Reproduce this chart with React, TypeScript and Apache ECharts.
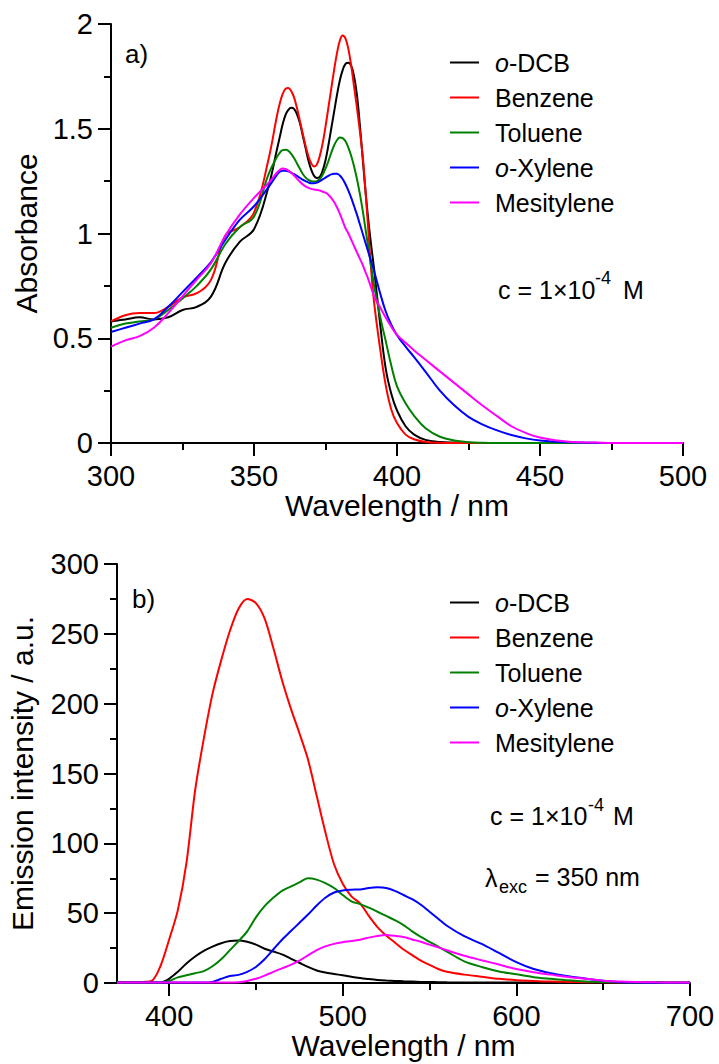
import React, { useEffect, useRef } from "react";
import * as echarts from "echarts";

const FONT = "Liberation Sans, Arial, sans-serif";

const SERIES_NAMES = ["o-DCB", "Benzene", "Toluene", "o-Xylene", "Mesitylene"];
const SERIES_COLORS = ["#000000", "#ff0000", "#008000", "#0000ff", "#ff00ff"];

// ---- (a) Absorbance ----
const ABS_WL = [300, 305, 310, 315, 320, 325, 330, 335, 340, 345, 350, 355,
  358, 359, 360, 361, 362, 363, 364, 365, 366, 367, 368, 369, 370, 371, 372, 373, 374, 375, 376, 377, 378, 379, 380, 381, 382, 383, 384, 385, 386, 387, 388, 389, 390, 391, 392,
  394, 396, 398, 400,
  403, 406, 410, 415, 420, 425, 430, 435, 440, 445, 450, 460, 470, 480, 500];
const ABS_DCB = [0.58, 0.59, 0.6, 0.59, 0.6, 0.635, 0.65, 0.7, 0.86, 0.96, 1.02, 1.22,
  1.4, 1.46, 1.52, 1.565, 1.59, 1.6, 1.595, 1.57, 1.53, 1.47, 1.41, 1.35, 1.305, 1.275, 1.265, 1.27, 1.3, 1.35, 1.42, 1.5, 1.58, 1.66, 1.73, 1.78, 1.81, 1.815, 1.8, 1.75, 1.66, 1.52, 1.36, 1.2, 1.06, 0.94, 0.83,
  0.58, 0.36, 0.235, 0.155,
  0.08, 0.04, 0.015, 0.005, 0.002, 0.001, 0, 0, 0, 0, 0, 0, 0, 0, 0];
const ABS_BENZENE = [0.58, 0.61, 0.62, 0.62, 0.65, 0.695, 0.715, 0.78, 0.99, 1.03, 1.1, 1.35,
  1.56, 1.62, 1.665, 1.69, 1.695, 1.68, 1.65, 1.6, 1.54, 1.48, 1.42, 1.37, 1.335, 1.32, 1.33, 1.37, 1.43, 1.51, 1.6, 1.69, 1.78, 1.86, 1.92, 1.945, 1.93, 1.88, 1.8, 1.7, 1.6, 1.49, 1.37, 1.2, 1.01, 0.82, 0.67,
  0.46, 0.28, 0.16, 0.095,
  0.04, 0.018, 0.005, 0.001, 0, 0, 0, 0, 0, 0, 0, 0, 0, 0, 0];
const ABS_TOLUENE = [0.55, 0.57, 0.58, 0.59, 0.635, 0.69, 0.75, 0.83, 0.95, 1.03, 1.08, 1.28,
  1.365, 1.385, 1.398, 1.4, 1.395, 1.38, 1.36, 1.335, 1.31, 1.285, 1.268, 1.256, 1.25, 1.248, 1.25, 1.26, 1.28, 1.31, 1.345, 1.385, 1.42, 1.445, 1.458, 1.455, 1.44, 1.41, 1.37, 1.32, 1.26, 1.19, 1.11, 1.02, 0.93, 0.84, 0.75,
  0.61, 0.49, 0.37, 0.27,
  0.19, 0.13, 0.07, 0.03, 0.012, 0.004, 0.001, 0, 0, 0, 0, 0, 0, 0, 0];
const ABS_XYLENE = [0.53, 0.55, 0.57, 0.59, 0.65, 0.72, 0.79, 0.865, 0.97, 1.065, 1.13, 1.22,
  1.28, 1.295, 1.3, 1.3, 1.297, 1.29, 1.283, 1.275, 1.266, 1.257, 1.25, 1.244, 1.24, 1.24, 1.243, 1.25, 1.258, 1.267, 1.275, 1.282, 1.285, 1.285, 1.277, 1.26, 1.235, 1.205, 1.17, 1.13, 1.09, 1.045, 1.0, 0.955, 0.91, 0.865, 0.82,
  0.72, 0.63, 0.565, 0.515,
  0.46, 0.41, 0.34, 0.25, 0.18, 0.125, 0.088, 0.06, 0.038, 0.022, 0.012, 0.003, 0.001, 0, 0];
const ABS_MESITYLENE = [0.46, 0.49, 0.51, 0.55, 0.62, 0.7, 0.78, 0.86, 0.99, 1.09, 1.17, 1.24,
  1.29, 1.303, 1.31, 1.308, 1.3, 1.29, 1.277, 1.262, 1.248, 1.235, 1.225, 1.218, 1.213, 1.21, 1.208, 1.205, 1.2, 1.195, 1.185, 1.17, 1.15, 1.125, 1.095, 1.06, 1.025, 1.0, 0.97, 0.94, 0.91, 0.88, 0.85, 0.815, 0.78, 0.74, 0.7,
  0.65, 0.6, 0.555, 0.516,
  0.478, 0.442, 0.397, 0.342, 0.287, 0.232, 0.178, 0.128, 0.08, 0.048, 0.026, 0.006, 0.002, 0, 0];

// ---- (b) Emission ----
const EM_WL = [370, 375, 380, 385, 390, 395, 400, 405, 410, 415, 420, 425, 430, 435, 440, 445, 450, 455, 460, 465, 470, 475, 480, 485, 490, 495, 500, 505, 510, 515, 520, 525, 530, 535, 540, 545, 550, 555, 560, 570, 580, 590, 600, 610, 620, 630, 640, 650, 660, 670, 680, 690, 700];
const EM_DCB = [0.3, 0.3, 0.3, 0.3, 0.3, 0.4, 3, 8, 14, 19, 23, 26, 28.5, 30, 30.5, 29.5, 27.5, 24.5, 22.5, 20.5, 17.5, 14.5, 11.5, 9, 7.5, 6.5, 5.5, 4.5, 3.5, 2.8, 2.2, 1.8, 1.5, 1.2, 1, 0.8, 0.7, 0.6, 0.5, 0.4, 0.4, 0.3, 0.3, 0.3, 0.3, 0.3, 0.3, 0.3, 0.3, 0.3, 0.3, 0.3, 0.3];
const EM_BENZENE = [0.5, 0.5, 0.6, 0.8, 1.5, 12, 31, 52, 86, 138, 175, 207, 231, 252, 268, 275, 272, 261, 240, 217, 197, 179, 160, 134, 108, 85, 71, 62, 57, 48, 40, 34, 29, 24, 20, 16, 13, 10, 8, 6, 4.5, 3, 2, 1.5, 1, 0.8, 0.6, 0.5, 0.4, 0.3, 0.3, 0.2, 0.2];
const EM_TOLUENE = [0.3, 0.3, 0.3, 0.3, 0.3, 0.3, 1.5, 4, 5.5, 7, 8.5, 12, 17, 23.5, 30, 37, 47, 55, 61, 66, 69, 72, 75, 74, 71.5, 68, 63, 58.5, 56.5, 54, 51, 48, 45, 41.5, 37, 33, 29.5, 26, 22.5, 15.5, 11.5, 8.3, 6.2, 4.2, 3, 1.9, 1.1, 0.7, 0.5, 0.4, 0.3, 0.2, 0.2];
const EM_XYLENE = [0.3, 0.3, 0.3, 0.3, 0.3, 0.3, 0.3, 0.3, 0.3, 0.3, 0.3, 0.8, 3, 5, 5.8, 8, 11.5, 17, 24, 31, 37, 43, 49, 55.5, 61, 64.8, 66.3, 66.8, 67, 68, 68.5, 68, 66, 63, 60, 56, 51, 46, 41, 33.5, 28, 21.5, 15, 10, 7, 4.8, 3.1, 1.6, 0.6, 0.3, 0.2, 0.2, 0.2];
const EM_MESITYLENE = [0.3, 0.3, 0.3, 0.3, 0.3, 0.3, 0.3, 0.3, 0.3, 0.3, 0.3, 0.3, 0.3, 0.3, 0.6, 1.5, 3, 5.3, 8, 10.5, 13, 16, 19.8, 23.5, 26.2, 28, 29.2, 30, 31, 32.5, 33.7, 34.3, 33.8, 33, 31.2, 29.5, 27.5, 25.5, 23.4, 19.5, 16.3, 13.2, 10, 7.7, 6, 4.3, 3.1, 1.6, 1, 0.7, 0.5, 0.4, 0.3];

const ABS_VALUES = [ABS_DCB, ABS_BENZENE, ABS_TOLUENE, ABS_XYLENE, ABS_MESITYLENE];
const EM_VALUES = [EM_DCB, EM_BENZENE, EM_TOLUENE, EM_XYLENE, EM_MESITYLENE];

const EM_MAJOR_TICKS = [400, 500, 600, 700];
const EM_MINOR_TICKS = [450, 550, 650];

const black = "#000";
const axisLine = { show: true, onZero: false, lineStyle: { color: black, width: 2 } };
const axisTick = { show: true, length: 13, lineStyle: { color: black, width: 2 } };
const minorTick = { show: true, splitNumber: 2, length: 7, lineStyle: { color: black, width: 2 } };
const axisLabel = { fontSize: 29, fontFamily: FONT, color: black, margin: 18 };
const nameStyle = { fontSize: 30, fontFamily: FONT, color: black };

function legendFor(top: number) {
  return {
    orient: "vertical",
    left: 450,
    top,
    padding: 0,
    itemGap: 10,
    itemWidth: 29,
    itemHeight: 2,
    icon: "rect",
    data: SERIES_NAMES.map((name) =>
      name === "Mesitylene" ? { name, textStyle: { padding: [5, 0, 5, 11] } } : { name }
    ),
    formatter: (name: string) =>
      name.startsWith("o-") ? `{i|o}{n|${name.slice(1)}}` : `{n|${name}}`,
    textStyle: {
      fontSize: 25,
      fontFamily: FONT,
      color: black,
      padding: [0, 0, 0, 11],
      rich: {
        i: { fontSize: 25, fontFamily: FONT, fontStyle: "italic", color: black },
        n: { fontSize: 25, fontFamily: FONT, color: black },
      },
    },
  };
}

function txt(text: string, x: number, y: number, size = 25) {
  return {
    type: "text",
    x,
    y,
    silent: true,
    style: { text, fontSize: size, fontFamily: FONT, fill: black, align: "left", verticalAlign: "middle" },
  };
}

export default function App() {
  const ref = useRef<HTMLDivElement>(null);

  useEffect(() => {
    document.body.style.margin = "0";
    const chart = echarts.init(ref.current as HTMLDivElement, null, { renderer: "svg" });

    const series: any[] = [];
    SERIES_NAMES.forEach((name, k) => {
      series.push({
        type: "line",
        name,
        xAxisIndex: 0,
        yAxisIndex: 0,
        data: ABS_WL.map((w, i) => [w, ABS_VALUES[k][i]]),
        showSymbol: false,
        symbol: "none",
        smooth: 0.4,
        lineStyle: { color: SERIES_COLORS[k], width: 2 },
        itemStyle: { color: SERIES_COLORS[k] },
      });
    });
    SERIES_NAMES.forEach((name, k) => {
      series.push({
        type: "line",
        name,
        xAxisIndex: 1,
        yAxisIndex: 1,
        data: EM_WL.map((w, i) => [w, EM_VALUES[k][i]]),
        showSymbol: false,
        symbol: "none",
        smooth: 0.3,
        lineStyle: { color: SERIES_COLORS[k], width: 2 },
        itemStyle: { color: SERIES_COLORS[k] },
      });
    });

    const option: any = {
      animation: false,
      backgroundColor: "#ffffff",
      textStyle: { fontFamily: FONT },
      grid: [
        { left: 111, top: 24, width: 572, height: 419, containLabel: false, outerBoundsMode: "none" },
        { left: 117, top: 564, width: 573, height: 419, containLabel: false, outerBoundsMode: "none" },
      ],
      legend: [legendFor(50), legendFor(590)],
      xAxis: [
        {
          type: "value",
          gridIndex: 0,
          min: 300,
          max: 500,
          interval: 50,
          name: "Wavelength / nm",
          nameLocation: "middle",
          nameGap: 45,
          nameTextStyle: nameStyle,
          axisLine,
          axisTick,
          minorTick,
          axisLabel,
          splitLine: { show: false },
          minorSplitLine: { show: false },
        },
        {
          type: "value",
          gridIndex: 1,
          min: 370,
          max: 700,
          position: "bottom",
          name: "Wavelength / nm",
          nameLocation: "middle",
          nameGap: 47,
          nameTextStyle: nameStyle,
          axisLine,
          axisTick: { ...axisTick, customValues: EM_MAJOR_TICKS },
          axisLabel: { ...axisLabel, customValues: EM_MAJOR_TICKS },
          splitLine: { show: false },
        },
        {
          type: "value",
          gridIndex: 1,
          min: 370,
          max: 700,
          position: "bottom",
          offset: 0,
          axisLine: { show: false },
          axisTick: { show: true, length: 7, lineStyle: { color: black, width: 2 }, customValues: EM_MINOR_TICKS },
          axisLabel: { show: false },
          splitLine: { show: false },
        },
      ],
      yAxis: [
        {
          type: "value",
          gridIndex: 0,
          min: 0,
          max: 2,
          interval: 0.5,
          name: "Absorbance",
          nameLocation: "middle",
          nameGap: 66,
          nameTextStyle: nameStyle,
          axisLine,
          axisTick,
          minorTick,
          axisLabel,
          splitLine: { show: false },
          minorSplitLine: { show: false },
        },
        {
          type: "value",
          gridIndex: 1,
          min: 0,
          max: 300,
          interval: 50,
          name: "Emission intensity / a.u.",
          nameLocation: "middle",
          nameGap: 80,
          nameTextStyle: nameStyle,
          axisLine,
          axisTick,
          minorTick,
          axisLabel,
          splitLine: { show: false },
          minorSplitLine: { show: false },
        },
      ],
      graphic: [
        txt("a)", 125, 54, 26),
        txt("b)", 132, 599, 26),
        txt("c = 1×10", 498, 289.5),
        txt("-4", 595, 278, 18),
        txt("M", 623, 289.5),
        txt("c = 1×10", 490, 815.5),
        txt("-4", 588, 804.5, 18),
        txt("M", 613, 815.5),
        txt("λ", 485, 877.5),
        txt("exc", 499, 887, 18),
        txt("= 350 nm", 535, 877),
      ],
      series,
    };

    chart.setOption(option);
    return () => chart.dispose();
  }, []);

  return (
    <div
      ref={ref}
      style={{ position: "absolute", left: 0, top: 0, width: 719, height: 1064, background: "#fff" }}
    />
  );
}
